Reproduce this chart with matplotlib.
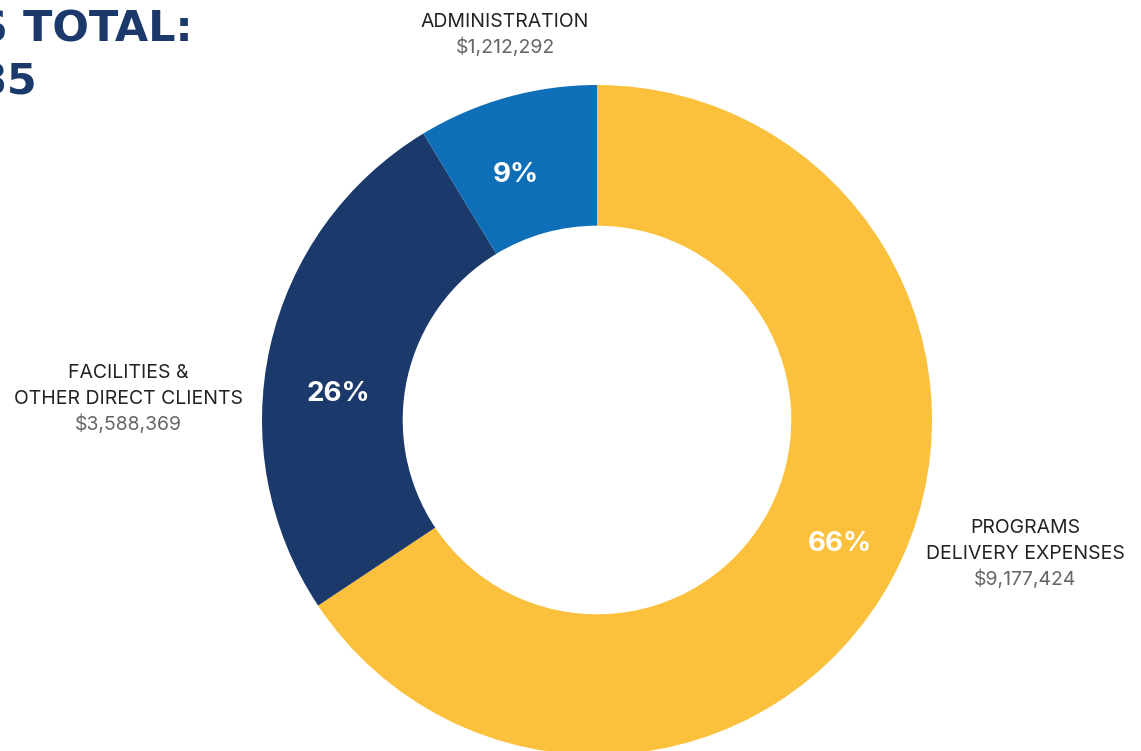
import matplotlib.pyplot as plt

# expense breakdown
names = ["PROGRAMS\nDELIVERY EXPENSES", "FACILITIES &\nOTHER DIRECT CLIENTS", "ADMINISTRATION"]
amounts = [9177424, 3588369, 1212292]
colors = ["#FBC13C", "#1B3A6B", "#0E6FB8"]
total = sum(amounts)

W, H = 1141, 751
fig = plt.figure(figsize=(W / 100, H / 100), dpi=100)
ax = fig.add_axes([0, 0, 1, 1])

cx, cy, R = 597, H - 420, 335
wedges, _, pcts = ax.pie(amounts, colors=colors, startangle=90, counterclock=False,
                         center=(cx, cy), radius=R, frame=True,
                         wedgeprops=dict(width=R * 0.42, linewidth=0),
                         autopct=lambda p: f"{p:.0f}%", pctdistance=0.795,
                         textprops=dict(color="white", fontsize=20,
                                        fontweight="bold", family="Inter"))
ax.set_xlim(0, W)
ax.set_ylim(0, H)
ax.set_aspect("equal")
ax.axis("off")

# percentage labels sit a bit off the mid-angle in the original
pct_pos = [(840, 541), (338, 391), (516, 172)]
for t, (px, py) in zip(pcts, pct_pos):
    t.set_position((px, H - py))
    t.set_verticalalignment("center_baseline")

# outer labels: centre x, centre y of first line
label_pos = [(1025, 526), (128, 371), (505, 20)]
step = 26
for name, amt, (lx, ly) in zip(names, amounts, label_pos):
    lines = name.split("\n")
    for i, ln in enumerate(lines):
        ax.text(lx, H - (ly + i * step) - 7, ln, ha="center", va="baseline",
                fontsize=14, color="#222222", family="Inter")
    ax.text(lx, H - (ly + len(lines) * step) - 7, f"${amt:,}", ha="center",
            va="baseline", fontsize=14, color="#666666", family="Inter")

# title, cropped off the left edge
ax.text(193, H - 41, "EXPENSES TOTAL:", ha="right", va="baseline", fontsize=31,
        fontweight="bold", color="#1B3A6B", family="DejaVu Sans", clip_on=False)
ax.text(37, H - 94, f"${total:,}", ha="right", va="baseline", fontsize=31,
        fontweight="bold", color="#1B3A6B", family="DejaVu Sans", clip_on=False)

fig.savefig("out.png", dpi=100)
